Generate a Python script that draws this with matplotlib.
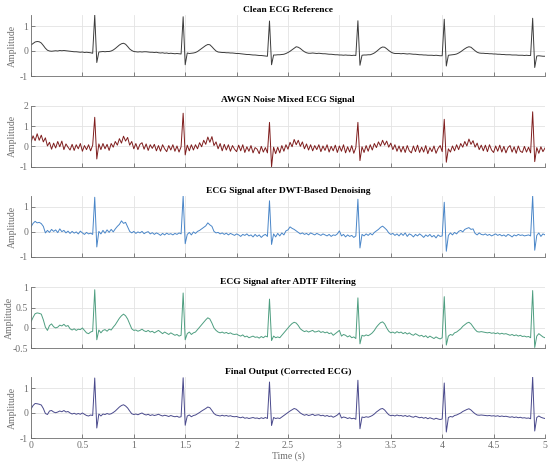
import numpy as np
import matplotlib
matplotlib.use("Agg")
import matplotlib.pyplot as plt
from matplotlib.ticker import FuncFormatter

plt.rcParams['font.family'] = ['Liberation Serif', 'DejaVu Serif']
plt.rcParams['axes.unicode_minus'] = False

# sample spacing of the traces (s)
DT = 0.02

# one row = 0.2 s of signal (10 samples)
clean_ecg = [
    0.24, 0.30, 0.36, 0.38, 0.37, 0.32, 0.22, 0.11, 0.03, 0.00,
    -0.01, 0.00, 0.01, 0.00, 0.02, 0.01, 0.02, 0.01, 0.00, -0.01,
    -0.02, -0.03, -0.03, -0.04, -0.05, -0.04, -0.06, -0.05, -0.06, -0.07,
    -0.09, 1.44, -0.46, -0.04, -0.03, -0.02, -0.03, -0.02, -0.02, 0.00,
    0.04, 0.10, 0.17, 0.24, 0.29, 0.31, 0.27, 0.18, 0.08, 0.02,
    -0.02, -0.03, -0.04, -0.03, -0.04, -0.03, -0.03, -0.04, -0.05, -0.05,
    -0.06, -0.05, -0.07, -0.08, -0.07, -0.09, -0.08, -0.10, -0.09, -0.10,
    -0.11, -0.10, -0.11, -0.12, 1.37, -0.55, -0.08, -0.10, -0.09, -0.08,
    -0.06, -0.02, 0.04, 0.10, 0.16, 0.22, 0.26, 0.25, 0.17, 0.08,
    0.00, -0.04, -0.05, -0.06, -0.06, -0.07, -0.07, -0.08, -0.08, -0.09,
    -0.10, -0.10, -0.11, -0.12, -0.13, -0.14, -0.14, -0.15, -0.16, -0.16,
    -0.17, -0.18, -0.18, -0.19, -0.20, -0.21, 1.20, -0.55, -0.16, -0.16,
    -0.15, -0.15, -0.14, -0.13, -0.10, -0.06, -0.01, 0.05, 0.11, 0.17,
    0.15, 0.10, 0.03, -0.03, -0.07, -0.09, -0.09, -0.08, -0.09, -0.10,
    -0.09, -0.10, -0.11, -0.11, -0.12, -0.13, -0.13, -0.14, -0.15, -0.15,
    -0.16, -0.16, -0.17, -0.16, -0.17, -0.17, -0.18, -0.17, -0.18, 1.21,
    -0.57, -0.17, -0.16, -0.16, -0.15, -0.15, -0.12, -0.08, -0.02, 0.05,
    0.12, 0.16, 0.15, 0.09, 0.02, -0.04, -0.08, -0.10, -0.10, -0.10,
    -0.11, -0.10, -0.11, -0.12, -0.11, -0.12, -0.13, -0.13, -0.14, -0.15,
    -0.15, -0.16, -0.16, -0.17, -0.17, -0.17, -0.18, -0.17, -0.18, -0.19,
    -0.19, 1.27, -0.60, -0.17, -0.16, -0.15, -0.14, -0.12, -0.08, -0.03,
    0.03, 0.09, 0.14, 0.17, 0.15, 0.08, 0.01, -0.05, -0.08, -0.09,
    -0.09, -0.10, -0.10, -0.11, -0.11, -0.12, -0.12, -0.13, -0.13, -0.14,
    -0.14, -0.15, -0.15, -0.15, -0.16, -0.16, -0.16, -0.17, -0.17, -0.17,
    -0.18, -0.17, -0.18, -0.18, 1.31, -0.66, -0.20, -0.19, -0.20, -0.21,
    -0.21,
]

awgn_ecg = [
    0.20, 0.52, 0.28, 0.62, 0.30, 0.55, 0.22, 0.42, 0.02, 0.20,
    -0.14, 0.16, -0.08, 0.24, -0.02, 0.26, -0.16, 0.12, -0.04, -0.18,
    0.10, -0.20, 0.08, -0.12, 0.14, -0.24, 0.04, -0.16, 0.08, -0.22,
    0.06, 1.43, -0.62, 0.12, -0.16, 0.14, -0.12, 0.10, -0.20, 0.14,
    -0.04, 0.24, 0.06, 0.38, 0.16, 0.50, 0.26, 0.44, 0.06, 0.24,
    -0.12, 0.14, -0.16, 0.10, 0.18, -0.14, 0.12, -0.20, 0.08, -0.10,
    0.10, -0.22, 0.04, -0.24, 0.08, -0.12, -0.26, 0.04, -0.18, 0.08,
    -0.24, 0.02, -0.28, -0.02, 1.63, -0.42, 0.06, -0.22, 0.08, -0.18,
    0.08, -0.12, 0.18, -0.02, 0.30, 0.10, 0.46, 0.20, 0.48, 0.04,
    0.22, -0.12, 0.14, -0.22, 0.10, -0.18, 0.08, -0.24, 0.04, -0.14,
    -0.26, 0.06, -0.22, 0.08, -0.30, -0.02, -0.24, 0.04, -0.32, -0.06,
    -0.14, -0.36, 0.00, -0.28, -0.06, -0.32, 1.18, -1.00, -0.04, -0.36,
    -0.04, -0.32, 0.04, -0.24, 0.08, -0.14, 0.20, -0.02, 0.34, 0.08,
    0.30, 0.00, 0.22, -0.12, 0.12, -0.18, 0.08, -0.22, 0.04, -0.16,
    0.08, -0.26, 0.02, -0.20, 0.08, -0.28, 0.00, -0.22, 0.06, -0.30,
    0.02, -0.24, 0.08, -0.32, -0.02, -0.28, 0.04, -0.34, -0.06, 1.18,
    -0.70, -0.02, -0.30, 0.04, -0.24, 0.08, -0.18, 0.14, -0.06, 0.22,
    0.02, 0.30, 0.06, 0.26, -0.04, 0.16, -0.16, 0.08, -0.24, 0.02,
    -0.28, 0.00, -0.30, 0.04, -0.22, -0.32, 0.02, -0.26, 0.06, -0.30,
    -0.04, -0.28, 0.04, -0.36, -0.06, -0.26, 0.02, -0.34, -0.10, 0.04,
    -0.26, 1.33, -0.78, -0.12, -0.28, 0.02, -0.22, 0.08, -0.16, 0.14,
    -0.04, 0.24, 0.02, 0.36, 0.10, 0.28, -0.04, 0.16, -0.16, 0.06,
    -0.22, 0.06, -0.26, 0.08, -0.18, -0.30, 0.02, -0.24, 0.06, -0.28,
    0.00, -0.32, -0.06, 0.04, -0.28, -0.02, -0.34, 0.02, -0.24, -0.30,
    0.00, -0.28, -0.04, -0.32, 1.70, -0.75, -0.06, -0.34, -0.02, -0.26,
    -0.08,
]

dwt_ecg = [
    0.20, 0.34, 0.42, 0.36, 0.38, 0.33, 0.22, -0.04, 0.06, -0.02,
    0.10, 0.02, 0.08, -0.03, 0.12, 0.01, 0.06, -0.04, 0.03, -0.06,
    0.02, -0.05, 0.00, -0.08, 0.03, -0.04, -0.10, -0.02, -0.08, -0.05,
    -0.10, 1.38, -0.60, 0.02, -0.08, 0.06, -0.05, 0.08, -0.02, 0.10,
    0.00, 0.12, 0.22, 0.30, 0.44, 0.34, 0.38, 0.20, 0.02, -0.04,
    0.02, -0.06, 0.00, -0.04, 0.02, -0.07, -0.02, 0.01, -0.08, -0.03,
    -0.10, -0.04, -0.08, -0.14, -0.06, -0.12, -0.05, -0.10, -0.07, -0.12,
    -0.06, -0.10, -0.04, -0.08, 1.43, -0.47, -0.10, -0.02, -0.12, 0.00,
    -0.06, 0.02, 0.06, 0.12, 0.18, 0.24, 0.36, 0.28, 0.22, 0.02,
    -0.04, -0.02, -0.08, -0.04, -0.10, -0.05, -0.12, -0.06, -0.10, -0.14,
    -0.08, -0.12, -0.18, -0.10, -0.14, -0.08, -0.16, -0.12, -0.20, -0.10,
    -0.18, -0.12, -0.22, -0.14, -0.10, -0.18, 1.24, -0.50, -0.08, -0.20,
    -0.06, -0.16, -0.04, -0.12, 0.04, 0.08, 0.20, 0.14, 0.10, 0.04,
    -0.02, -0.08, -0.04, -0.10, -0.06, -0.12, -0.04, -0.08, -0.12, -0.06,
    -0.10, -0.14, -0.08, -0.12, -0.16, -0.10, -0.18, -0.12, -0.14, -0.08,
    0.04, -0.16, -0.10, -0.20, -0.12, -0.18, -0.14, -0.22, -0.16, 1.30,
    -0.64, -0.10, -0.16, -0.08, -0.14, -0.06, -0.12, -0.02, 0.04, 0.10,
    0.18, 0.23, 0.16, 0.08, -0.04, -0.10, -0.06, -0.14, -0.08, -0.16,
    -0.06, -0.14, -0.04, -0.18, -0.08, -0.12, -0.20, -0.10, -0.16, -0.08,
    -0.14, -0.22, -0.12, -0.18, -0.10, -0.20, -0.14, -0.24, -0.12, -0.18,
    -0.16, 1.18, -0.77, -0.14, -0.04, -0.12, -0.02, -0.08, 0.02, 0.06,
    0.00, 0.10, 0.14, 0.17, 0.10, 0.12, -0.06, -0.12, -0.04, -0.10,
    -0.12, -0.08, -0.14, -0.10, -0.16, -0.12, -0.08, -0.14, -0.10, -0.16,
    -0.12, -0.18, -0.10, -0.14, -0.20, -0.12, -0.16, -0.10, -0.14, -0.12,
    -0.16, -0.14, -0.12, -0.16, 1.43, -0.73, -0.14, -0.04, -0.18, -0.08,
    -0.12,
]

adtf_ecg = [
    0.15, 0.26, 0.35, 0.37, 0.36, 0.34, 0.20, 0.02, -0.06, 0.06,
    0.10, 0.03, 0.00, 0.02, 0.07, 0.05, 0.09, 0.04, 0.06, -0.02,
    -0.05, -0.02, -0.06, -0.03, -0.04, 0.00, -0.06, -0.12, -0.14, -0.10,
    -0.08, 0.94, -0.29, -0.05, -0.12, -0.06, -0.04, -0.08, -0.03, -0.05,
    0.02, 0.08, 0.16, 0.24, 0.30, 0.34, 0.30, 0.22, 0.10, -0.02,
    -0.06, -0.05, -0.08, -0.06, -0.03, -0.07, -0.09, -0.06, -0.10, -0.08,
    -0.12, -0.09, -0.06, -0.10, -0.14, -0.10, -0.13, -0.16, -0.12, -0.15,
    -0.18, -0.16, -0.20, -0.18, 0.86, -0.29, -0.14, -0.10, -0.16, -0.12,
    -0.10, -0.04, 0.02, 0.08, 0.14, 0.20, 0.25, 0.22, 0.12, 0.00,
    -0.06, -0.10, -0.12, -0.10, -0.13, -0.11, -0.14, -0.12, -0.15, -0.16,
    -0.15, -0.18, -0.20, -0.17, -0.22, -0.20, -0.24, -0.22, -0.20, -0.23,
    -0.22, -0.25, -0.21, -0.24, -0.20, -0.22, 0.71, -0.31, -0.20, -0.24,
    -0.22, -0.24, -0.18, -0.12, -0.06, 0.00, 0.06, 0.11, 0.14, 0.12,
    0.06, -0.02, -0.06, -0.09, -0.07, -0.10, -0.08, -0.06, -0.10, -0.09,
    -0.07, -0.11, -0.09, -0.12, -0.10, -0.14, -0.12, -0.18, -0.14, -0.10,
    -0.06, -0.20, -0.16, -0.18, -0.22, -0.19, -0.24, -0.22, -0.26, 0.74,
    -0.39, -0.18, -0.20, -0.17, -0.19, -0.16, -0.12, -0.06, 0.02, 0.08,
    0.13, 0.15, 0.10, 0.00, -0.08, -0.12, -0.10, -0.13, -0.09, -0.12,
    -0.10, -0.14, -0.11, -0.15, -0.12, -0.16, -0.18, -0.14, -0.17, -0.20,
    -0.18, -0.22, -0.19, -0.24, -0.20, -0.23, -0.26, -0.22, -0.25, -0.27,
    -0.24, 0.77, -0.42, -0.20, -0.16, -0.18, -0.12, -0.10, -0.06, -0.02,
    0.04, 0.08, 0.12, 0.14, 0.10, 0.03, -0.04, -0.09, -0.10, -0.09,
    -0.10, -0.11, -0.12, -0.11, -0.13, -0.12, -0.14, -0.12, -0.15, -0.13,
    -0.15, -0.14, -0.16, -0.18, -0.16, -0.19, -0.17, -0.20, -0.18, -0.21,
    -0.20, -0.22, -0.21, -0.24, 0.92, -0.48, -0.20, -0.14, -0.18, -0.22,
    -0.24,
]

final_ecg = [
    0.16, 0.30, 0.38, 0.37, 0.35, 0.32, 0.18, -0.02, -0.06, 0.08,
    0.10, 0.04, 0.01, 0.04, 0.08, 0.05, 0.10, 0.04, 0.06, 0.00,
    -0.04, -0.01, -0.05, -0.02, -0.05, 0.00, -0.05, -0.10, -0.12, -0.08,
    -0.10, 1.40, -0.60, -0.04, -0.12, -0.04, -0.06, -0.02, -0.05, -0.03,
    0.02, 0.08, 0.16, 0.24, 0.30, 0.33, 0.28, 0.20, 0.08, -0.03,
    -0.06, -0.04, -0.07, -0.03, 0.00, -0.05, -0.08, -0.05, -0.10, -0.07,
    -0.10, -0.08, -0.05, -0.09, -0.12, -0.09, -0.11, -0.14, -0.10, -0.13,
    -0.15, -0.13, -0.17, -0.15, 1.41, -0.49, -0.12, -0.08, -0.15, -0.10,
    -0.08, -0.03, 0.02, 0.08, 0.13, 0.18, 0.24, 0.21, 0.10, -0.02,
    -0.08, -0.10, -0.12, -0.09, -0.12, -0.10, -0.13, -0.11, -0.14, -0.15,
    -0.14, -0.17, -0.19, -0.16, -0.21, -0.19, -0.22, -0.20, -0.18, -0.21,
    -0.20, -0.23, -0.19, -0.22, -0.18, -0.22, 1.24, -0.50, -0.18, -0.22,
    -0.20, -0.22, -0.16, -0.10, -0.04, 0.02, 0.08, 0.13, 0.18, 0.15,
    0.08, 0.00, -0.05, -0.09, -0.06, -0.10, -0.08, -0.05, -0.10, -0.08,
    -0.07, -0.11, -0.09, -0.13, -0.10, -0.14, -0.12, -0.17, -0.13, -0.08,
    0.00, -0.20, -0.16, -0.18, -0.22, -0.19, -0.23, -0.21, -0.25, 1.31,
    -0.63, -0.16, -0.18, -0.15, -0.17, -0.14, -0.10, -0.04, 0.04, 0.10,
    0.16, 0.18, 0.12, 0.02, -0.07, -0.11, -0.09, -0.12, -0.08, -0.11,
    -0.10, -0.13, -0.10, -0.14, -0.11, -0.15, -0.17, -0.13, -0.16, -0.19,
    -0.17, -0.21, -0.18, -0.23, -0.19, -0.22, -0.25, -0.21, -0.24, -0.26,
    -0.24, 1.20, -0.76, -0.18, -0.14, -0.16, -0.10, -0.08, -0.04, 0.00,
    0.06, 0.10, 0.14, 0.17, 0.12, 0.04, -0.03, -0.08, -0.09, -0.08,
    -0.09, -0.10, -0.11, -0.10, -0.12, -0.11, -0.13, -0.11, -0.14, -0.12,
    -0.14, -0.13, -0.15, -0.17, -0.15, -0.18, -0.16, -0.19, -0.17, -0.20,
    -0.19, -0.21, -0.20, -0.23, 1.44, -0.72, -0.18, -0.12, -0.17, -0.20,
    -0.22,
]

titles = [
    'Clean ECG Reference',
    'AWGN Noise Mixed ECG Signal',
    'ECG Signal after DWT-Based Denoising',
    'ECG Signal after ADTF Filtering',
    'Final Output (Corrected ECG)',
]
series = [clean_ecg, awgn_ecg, dwt_ecg, adtf_ecg, final_ecg]
colors = ['#3c3c3c', '#7f1d1d', '#4a86c8', '#4e9e80', '#4a4a8c']
y_bottoms = [-1, -1, -1, -0.5, -1]
y_ticks = [[-1, 0, 1], [-1, 0, 1, 2], [-1, 0, 1], [-0.5, 0, 0.5, 1], [-1, 0, 1]]
y_tops = [None, 2, None, 1, None]   # None -> tight to the signal maximum
x_ticks = np.arange(0, 5.01, 0.5)

fig = plt.figure(figsize=(5.5, 4.63), dpi=100)
W, H = 550.0, 463.0
ax_left, ax_right = 31, 545
ax_tops = [15, 105.7, 196, 287.3, 377]
ax_h = 61
fmt = FuncFormatter(lambda v, p: '%g' % v)
gray = '#6e6e6e'

for i, (sig, title) in enumerate(zip(series, titles)):
    ax = fig.add_axes([ax_left / W, 1 - (ax_tops[i] + ax_h) / H,
                       (ax_right - ax_left) / W, ax_h / H])
    t = np.arange(len(sig)) * DT
    ax.plot(t, sig, color=colors[i], lw=0.7)
    ax.set_xlim(0, 5)
    top = y_tops[i] if y_tops[i] is not None else max(sig)
    ax.set_ylim(y_bottoms[i], top)
    ax.set_xticks(x_ticks)
    ax.set_yticks(y_ticks[i])
    ax.xaxis.set_major_formatter(fmt)
    ax.yaxis.set_major_formatter(fmt)
    ax.grid(True, color='#e3e3e3', lw=0.6)
    ax.set_axisbelow(True)
    for s in ['top', 'right']:
        ax.spines[s].set_visible(False)
    for s in ['left', 'bottom']:
        ax.spines[s].set_color(gray)
        ax.spines[s].set_linewidth(0.6)
    ax.tick_params(direction='in', length=3, width=0.6, colors=gray,
                   labelsize=7, pad=2)
    if i < 4:
        ax.tick_params(axis='x', labelbottom=False)
    else:
        ax.set_xlabel('Time (s)', fontsize=7, color=gray, labelpad=1)
    ax.set_ylabel('Amplitude', fontsize=7, color=gray)
    ax.yaxis.set_label_coords(-0.027 if i != 3 else -0.033, 0.5)
    ax.set_title(title, fontsize=6.8, fontweight='bold', pad=2.5)

fig.savefig('out.png', dpi=100)
